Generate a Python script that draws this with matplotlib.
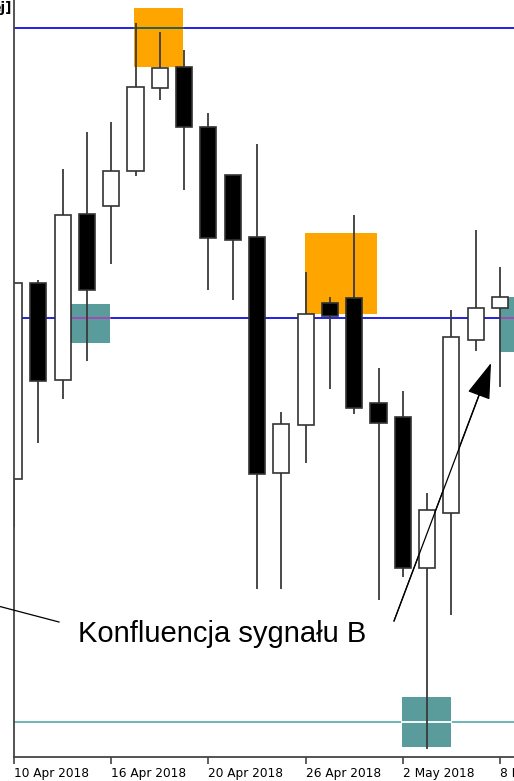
import matplotlib
matplotlib.use("Agg")
import matplotlib.pyplot as plt
from matplotlib.patches import Rectangle
from matplotlib.lines import Line2D

# ---- data (price units, arbitrary scale) ----
dates = ["10 Apr", "11 Apr", "12 Apr", "13 Apr", "16 Apr", "17 Apr", "18 Apr",
         "19 Apr", "20 Apr", "23 Apr", "24 Apr", "25 Apr", "26 Apr", "27 Apr",
         "30 Apr", "1 May", "2 May", "3 May", "4 May", "7 May", "8 May"]
opens  = [278, 474, 377, 543, 551, 586, 669, 690, 630, 582, 520, 284, 332, 454, 459, 354, 340, 189, 244, 417, 449]
highs  = [474, 477, 588, 625, 635, 734, 725, 707, 644, 582, 613, 345, 485, 460, 542, 389, 366, 264, 447, 527, 490]
lows   = [230, 314, 358, 396, 493, 581, 657, 567, 467, 457, 168, 168, 294, 368, 343, 157, 180,   8, 142, 406, 370]
closes = [474, 376, 542, 467, 586, 670, 689, 630, 519, 517, 283, 333, 443, 441, 349, 334, 189, 247, 420, 449, 460]

tick_idx = [0, 4, 8, 12, 16, 20]
tick_labels = ["10 Apr 2018", "16 Apr 2018", "20 Apr 2018", "26 Apr 2018", "2 May 2018", "8 May 2018"]

hlines_blue = [729, 439]
hline_teal = 35

# zones: (x0, x1, y0, y1) in candle-index / price units
orange_zones = [(4.94, 6.95, 690, 749), (11.98, 14.94, 443, 524)]
teal_zones = [(2.35, 3.95, 414, 453), (15.97, 17.98, 10, 60), (20.0, 21.5, 405, 460)]

annotation = "Konfluencja sygnału B"

# ---- figure ----
W, H = 514, 781
fig = plt.figure(figsize=(W / 100, H / 100), dpi=100)
ax = fig.add_axes([14 / W, 24 / H, 500 / W, 757 / H])
ax.set_xlim(0, 500 / 24.3)
ax.set_ylim(0, 757)

orange = "#FFA500"
teal = "#5A9C9C"

for x0, x1, y0, y1 in orange_zones:
    ax.add_patch(Rectangle((x0, y0), x1 - x0, y1 - y0, facecolor=orange,
                           edgecolor="none", zorder=1))
for x0, x1, y0, y1 in teal_zones:
    ax.add_patch(Rectangle((x0, y0), x1 - x0, y1 - y0, facecolor=teal,
                           edgecolor="none", zorder=1))

for y in hlines_blue:
    ax.axhline(y, color="#1010E0", lw=1.3, zorder=2)
ax.axhline(hline_teal, color="#5FB0B0", lw=1.3, zorder=2)

# colour blend where lines cross zones
def overlay(y, zones, color):
    for x0, x1, y0, y1 in zones:
        if y0 <= y <= y1:
            ax.plot([x0, x1], [y, y], color=color, lw=1.3, zorder=2.5)

overlay(hlines_blue[0], orange_zones, "#2A6A48")
overlay(hlines_blue[1], teal_zones, "#B050B0")
overlay(hline_teal, teal_zones, "#FFFFFF")

# candles
bw = 0.66
for i, (o, h, l, c) in enumerate(zip(opens, highs, lows, closes)):
    ax.plot([i, i], [l, h], color="#3A3A3A", lw=1.3, zorder=3, solid_capstyle="butt")
    up = c >= o
    lo, hi = min(o, c), max(o, c)
    r = Rectangle((i - bw / 2, lo), bw, hi - lo,
                  facecolor="white" if up else "black",
                  edgecolor="#333333", lw=1.2, zorder=4)
    ax.add_patch(r)
    r.set_clip_box(ax.bbox)

# axes styling
for s in ["top", "right"]:
    ax.spines[s].set_visible(False)
ax.spines["left"].set_color("#444444")
ax.spines["bottom"].set_color("#444444")
ax.spines["left"].set_linewidth(1.3)
ax.spines["bottom"].set_linewidth(1.3)
ax.spines["left"].set_zorder(5)
ax.set_yticks([])
ax.set_xticks(tick_idx)
ax.set_xticklabels(tick_labels, ha="left", fontsize=8.7, family="DejaVu Sans")
ax.tick_params(axis="x", length=5, width=1.2, color="#444444", pad=2)

# annotation text and pointer lines (figure pixel coordinates)
def fx(px):
    return px / W

def fy(py):
    return 1 - py / H

fig.text(fx(78), fy(642), annotation, fontsize=21, family="Liberation Sans",
         va="baseline", ha="left", color="black")
fig.add_artist(Line2D([fx(-2), fx(59)], [fy(606), fy(622)], color="black", lw=0.9))
fig.add_artist(Line2D([fx(394), fx(480)], [fy(621), fy(393)], color="black", lw=0.9))
ax.annotate("", xy=(fx(491), fy(363)), xycoords="figure fraction",
            xytext=(fx(394), fy(621)), textcoords="figure fraction",
            arrowprops=dict(arrowstyle="-|>,head_length=2.3,head_width=0.75",
                            color="black", lw=0.9, shrinkA=0, shrinkB=0),
            annotation_clip=False)

fig.text(fx(-9), fy(12), "ej]", fontsize=10, fontweight="bold", family="DejaVu Sans",
         va="baseline", ha="left")

fig.savefig("out.png", dpi=100)
